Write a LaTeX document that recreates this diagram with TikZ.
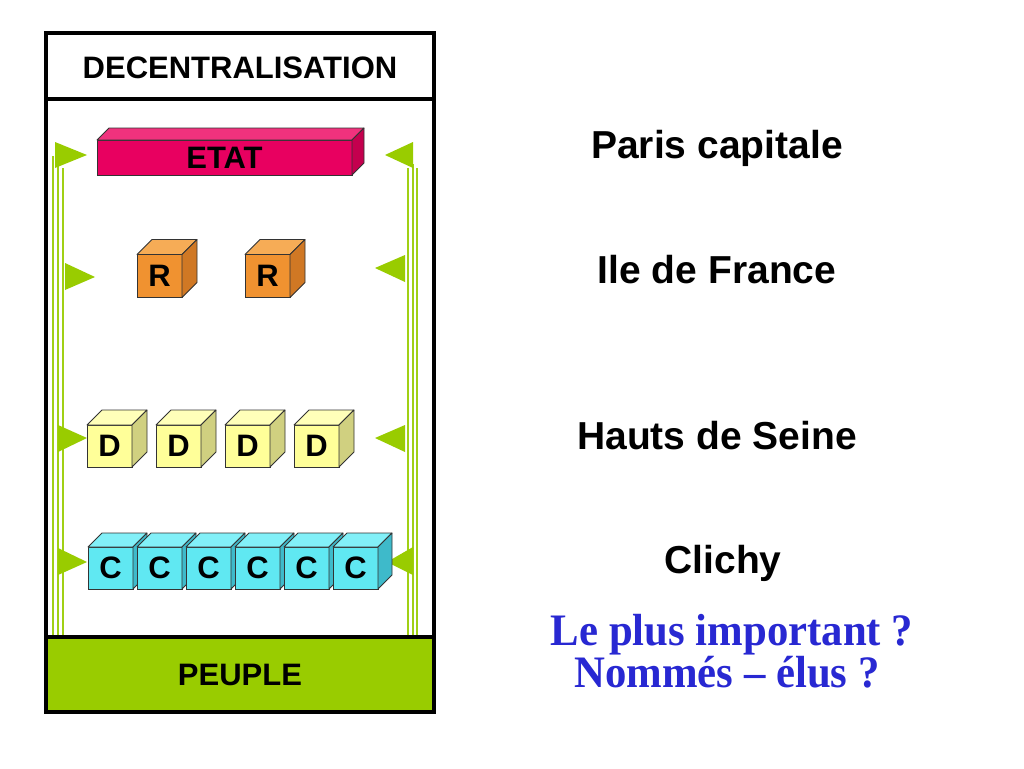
\documentclass[tikz,border=0pt]{standalone}
\usepackage{fontspec}
\setmainfont{Liberation Sans}
\newfontfamily\blueserif{Liberation Serif}
\definecolor{grn}{RGB}{153,204,0}
\definecolor{grnl}{RGB}{160,208,20}
\definecolor{etatF}{RGB}{232,0,96}
\definecolor{etatT}{RGB}{240,50,125}
\definecolor{etatS}{RGB}{196,0,78}
\definecolor{rF}{RGB}{240,146,48}
\definecolor{rT}{RGB}{246,172,86}
\definecolor{rS}{RGB}{208,120,36}
\definecolor{dF}{RGB}{255,255,153}
\definecolor{dT}{RGB}{255,255,185}
\definecolor{dS}{RGB}{208,208,128}
\definecolor{cF}{RGB}{96,232,242}
\definecolor{cT}{RGB}{130,240,248}
\definecolor{cS}{RGB}{62,186,202}
\definecolor{qblue}{RGB}{40,40,210}
\tikzset{
  cubeface/.style={draw=black!80, line width=0.8pt, inner sep=0pt, outer sep=0pt,
    font=\fontsize{31}{31}\selectfont\bfseries},
  cubeedge/.style={draw=black!80, line width=0.8pt, line join=round},
  greenline/.style={draw=grnl, line width=2pt},
  greentri/.style={fill=grn, draw=none},
  framebox/.style={draw=black, line width=4pt},
  boxlabel/.style={font=\fontsize{31}{31}\selectfont\bfseries, anchor=base, inner sep=0pt},
  placelabel/.style={font=\fontsize{39}{39}\selectfont\bfseries, anchor=base, inner sep=0pt},
  questlabel/.style={font=\blueserif\fontsize{45}{45}\selectfont\bfseries, text=qblue, anchor=base, inner sep=0pt, xscale=0.95}
}
% #1 name, #2 center, #3 w, #4 h, #5 depth, #6 front, #7 top, #8 side, #9 label
\newcommand\mycube[9]{%
  \node[cubeface, fill=#6, minimum width=#3pt, minimum height=#4pt] (#1) at #2 {#9};
  \draw[cubeedge, fill=#7] (#1.north west) -- ++(#5,-#5) -- ++(#3,0) -- (#1.north east) -- cycle;
  \draw[cubeedge, fill=#8] (#1.north east) -- ++(#5,-#5) -- ++(0,#4) -- (#1.south east) -- cycle;
}
\begin{document}
\begin{tikzpicture}[x=1pt, y=-1pt]
\useasboundingbox (0,0) rectangle (1024,768);
\fill[white] (0,0) rectangle (1024,768);

% PEUPLE band
\fill[grn] (46,637) rectangle (434,712);

% green vertical lines (left)
\coordinate (lb1) at (53,636); \coordinate (lt1) at (53,156);
\coordinate (lb2) at (58,636); \coordinate (lt2) at (58,164);
\coordinate (lb3) at (63,636); \coordinate (lt3) at (63,168);
\draw[greenline] (lb1) -- (lt1);
\draw[greenline] (lb2) -- (lt2);
\draw[greenline] (lb3) -- (lt3);
% green vertical lines (right)
\coordinate (rb1) at (408,636); \coordinate (rt1) at (408,168);
\coordinate (rb2) at (412.5,636); \coordinate (rt2) at (412.5,164);
\coordinate (rb3) at (417,636); \coordinate (rt3) at (417,168);
\draw[greenline] (rb1) -- (rt1);
\draw[greenline] (rb2) -- (rt2);
\draw[greenline] (rb3) -- (rt3);

% left triangles (pointing right)
\coordinate (la1) at (87,155);
\coordinate (la2) at (95,277);
\coordinate (la3) at (87,438);
\coordinate (la4) at (87,562);
\fill[greentri] (la1) -- ++(-32,-13) -- ++(0,26) -- cycle;
\fill[greentri] (la2) -- ++(-30,-14) -- ++(0,27) -- cycle;
\fill[greentri] (la3) -- ++(-29,-13) -- ++(0,27) -- cycle;
\fill[greentri] (la4) -- ++(-29,-14) -- ++(0,27) -- cycle;
% right triangles (pointing left)
\coordinate (ra1) at (385,155);
\coordinate (ra2) at (375,268);
\coordinate (ra3) at (375,438);
\coordinate (ra4) at (387,562);
\fill[greentri] (ra1) -- ++(28,-13) -- ++(0,26) -- cycle;
\fill[greentri] (ra2) -- ++(30,-13) -- ++(0,27) -- cycle;
\fill[greentri] (ra3) -- ++(30,-13) -- ++(0,27) -- cycle;
\fill[greentri] (ra4) -- ++(26,-15) -- ++(0,28) -- cycle;

% ETAT bar
\mycube{etat}{(224.5,157.5)}{255}{35}{12}{etatF}{etatT}{etatS}{ETAT}
% R cubes
\mycube{r1}{(159.5,276)}{45}{43}{15}{rF}{rT}{rS}{R}
\mycube{r2}{(267.5,276)}{45}{43}{15}{rF}{rT}{rS}{R}
% D cubes
\mycube{d1}{(109.5,446)}{45}{42}{15}{dF}{dT}{dS}{D}
\mycube{d2}{(178.5,446)}{45}{42}{15}{dF}{dT}{dS}{D}
\mycube{d3}{(247.5,446)}{45}{42}{15}{dF}{dT}{dS}{D}
\mycube{d4}{(316.5,446)}{45}{42}{15}{dF}{dT}{dS}{D}
% C cubes
\mycube{c1}{(110.5,568)}{45}{42}{14}{cF}{cT}{cS}{C}
\mycube{c2}{(159.5,568)}{45}{42}{14}{cF}{cT}{cS}{C}
\mycube{c3}{(208.5,568)}{45}{42}{14}{cF}{cT}{cS}{C}
\mycube{c4}{(257.5,568)}{45}{42}{14}{cF}{cT}{cS}{C}
\mycube{c5}{(306.5,568)}{45}{42}{14}{cF}{cT}{cS}{C}
\mycube{c6}{(355.5,568)}{45}{42}{14}{cF}{cT}{cS}{C}

% frame
\draw[framebox] (46,33) rectangle (434,712);
\draw[framebox] (46,99) -- (434,99);
\draw[framebox] (46,637) -- (434,637);
\node[boxlabel] (decent) at (240,78) {DECENTRALISATION};
\node[boxlabel] (peuple) at (240,685) {PEUPLE};

% right labels
\node[placelabel] (paris) at (717,158) {Paris capitale};
\node[placelabel] (idf) at (717,283) {Ile de France};
\node[placelabel] (hds) at (717,449) {Hauts de Seine};
\node[placelabel] (clichy) at (723,573) {Clichy};
\node[questlabel] (q1) at (732,645) {Le plus important ?};
\node[questlabel] (q2) at (727,687) {Nommés – élus ?};
\end{tikzpicture}
\end{document}
